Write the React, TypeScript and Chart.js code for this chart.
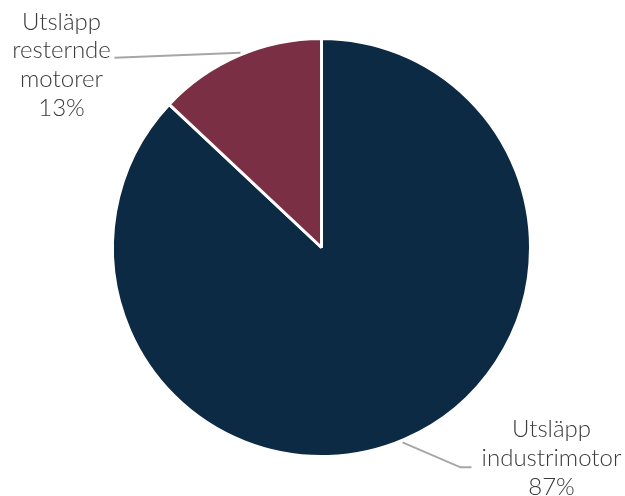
import React, { useEffect, useRef } from "react";
import { Chart, registerables } from "chart.js";

Chart.register(...registerables);

const categories = ["Utsläpp industrimotor", "Utsläpp resternde motorer"];
const values = [87, 13];
const labelLines = [["Utsläpp", "industrimotor", "87%"], ["Utsläpp", "resternde", "motorer", "13%"]];
const colors = ["#0d2a45", "#7b2f45"];

const labelPlugin = {
  id: "pieLabels",
  afterDraw(chart: any) {
    const ctx = chart.ctx;
    const meta = chart.getDatasetMeta(0);
    ctx.save();
    ctx.font = "300 24px Lato";
    ctx.fillStyle = "#3a3a3a";
    ctx.textAlign = "center";
    ctx.textBaseline = "alphabetic";
    ctx.strokeStyle = "#a6a6a6";
    ctx.lineWidth = 2;
    meta.data.forEach((arc: any, i: number) => {
      const { x, y, startAngle, endAngle, outerRadius } = arc.getProps(["x", "y", "startAngle", "endAngle", "outerRadius"], true);
      const mid = (startAngle + endAngle) / 2;
      const ex = x + Math.cos(mid) * outerRadius;
      const ey = y + Math.sin(mid) * outerRadius;
      const lines = labelLines[i];
      const lh = 28.7;
      if (Math.cos(mid) < 0) {
        ctx.beginPath();
        ctx.moveTo(ex + 2, ey - 3);
        ctx.lineTo(ex - 124, ey + 2);
        ctx.stroke();
        const cx = ex - 177;
        const startY = ey - 26;
        lines.forEach((t, k) => ctx.fillText(t, cx, startY + k * lh));
      } else {
        ctx.beginPath();
        ctx.moveTo(ex - 2, ey + 3);
        ctx.lineTo(ex + 56, ey + 28);
        ctx.lineTo(ex + 67, ey + 28);
        ctx.stroke();
        const cx = ex + 147;
        const startY = ey - 2;
        lines.forEach((t, k) => ctx.fillText(t, cx, startY + k * lh));
      }
    });
    ctx.restore();
  },
};

export default function App() {
  const ref = useRef<HTMLCanvasElement>(null);
  useEffect(() => {
    const chart = new Chart(ref.current!, {
      type: "pie",
      data: {
        labels: categories,
        datasets: [
          {
            data: values,
            backgroundColor: colors,
            borderColor: "#ffffff",
            borderWidth: 3,
          },
        ],
      },
      options: {
        responsive: false,
        animation: false,
        layout: { padding: { left: 111, right: 93, top: 36, bottom: 37 } },
        plugins: { legend: { display: false }, tooltip: { enabled: false } },
      },
      plugins: [labelPlugin],
    });
    return () => chart.destroy();
  }, []);
  return (
    <div style={{ position: "fixed", left: 0, top: 0, width: 625, height: 496, background: "#fff" }}>
      <canvas ref={ref} width={625} height={496} />
    </div>
  );
}
